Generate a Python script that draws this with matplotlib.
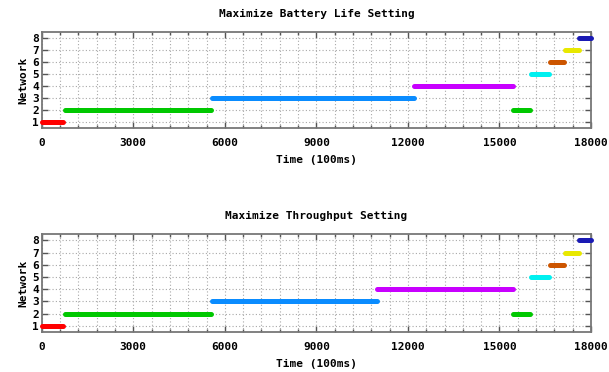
import numpy as np
import matplotlib
matplotlib.use('Agg')
import matplotlib.pyplot as plt
from matplotlib.ticker import MultipleLocator

# --- data (time in 100ms units) ---
battery_net   = [1, 2, 3, 4, 2, 5, 6, 7, 8]
battery_start = [0, 750, 5570, 12200, 15430, 16030, 16650, 17160, 17620]
battery_end   = [700, 5550, 12210, 15450, 16010, 16620, 17100, 17610, 17990]

thru_net   = [1, 2, 3, 4, 2, 5, 6, 7, 8]
thru_start = [0, 750, 5570, 11000, 15430, 16030, 16650, 17160, 17620]
thru_end   = [700, 5550, 10980, 15450, 16010, 16620, 17100, 17610, 17990]

net_colors = {1: '#ff0000', 2: '#00c800', 3: '#0a8cff', 4: '#c800ff',
              5: '#00f0f0', 6: '#cc5500', 7: '#e8e800', 8: '#1a1ab4'}

titles = ['Maximize Battery Life Setting', 'Maximize Throughput Setting']

FONT = 'DejaVu Sans Mono'
plt.rcParams['font.family'] = FONT
plt.rcParams['font.weight'] = 'bold'

fig = plt.figure(figsize=(6.09, 3.72), dpi=100)
ax_top = fig.add_axes([0.0685, 0.656, 0.902, 0.258])
ax_bot = fig.add_axes([0.0685, 0.108, 0.902, 0.262])


def draw_panel(ax, nets, starts, ends, title):
    for n, s, e in zip(nets, starts, ends):
        ax.plot([s, e], [n, n], color=net_colors[n], lw=3.6,
                solid_capstyle='round', clip_on=False, zorder=3)
    ax.set_xlim(0, 18000)
    ax.set_ylim(0.5, 8.5)
    ax.xaxis.set_major_locator(MultipleLocator(3000))
    ax.xaxis.set_minor_locator(MultipleLocator(600))
    ax.yaxis.set_major_locator(MultipleLocator(1))
    ax.grid(True, which='both', color='#a8a8a8', linestyle=(0, (1, 2)), lw=0.8)
    ax.set_axisbelow(True)
    ax.tick_params(which='both', direction='in', top=True, right=True,
                   colors='#555555', labelcolor='black', labelsize=8)
    ax.tick_params(which='major', length=4, width=1)
    ax.tick_params(which='minor', length=2, width=1)
    ax.tick_params(axis='x', pad=7)
    ax.tick_params(axis='y', pad=2)
    for sp in ax.spines.values():
        sp.set_color('#777777')
        sp.set_linewidth(1.3)
    ax.set_title(title, fontsize=8, fontweight='bold', pad=11)
    ax.set_xlabel('Time (100ms)', fontsize=8, fontweight='bold', labelpad=5)
    ax.set_ylabel('Network', fontsize=8, fontweight='bold', labelpad=3)


draw_panel(ax_top, battery_net, battery_start, battery_end, titles[0])
draw_panel(ax_bot, thru_net, thru_start, thru_end, titles[1])

fig.savefig('out.png', dpi=100)
